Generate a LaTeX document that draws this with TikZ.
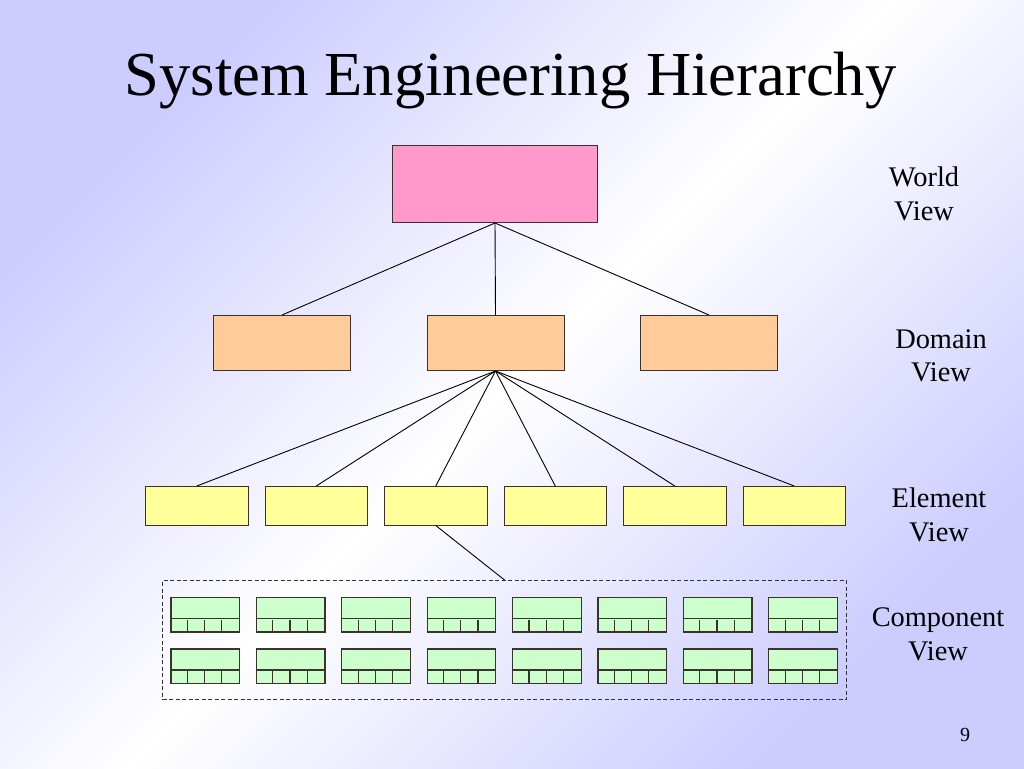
\documentclass[tikz,border=0pt]{standalone}
\usepackage{fontspec}
\setmainfont{Liberation Serif}
\usetikzlibrary{calc}
\definecolor{lav}{RGB}{204,204,255}
\definecolor{pinkf}{RGB}{255,153,204}
\definecolor{peachf}{RGB}{255,204,153}
\definecolor{yellowf}{RGB}{255,255,153}
\definecolor{greenf}{RGB}{204,255,204}
\definecolor{edgec}{RGB}{60,50,45}
\begin{document}
\begin{tikzpicture}[x=1pt,y=-1pt,
  box/.style={draw=edgec, line width=1pt, inner sep=0pt, anchor=north west},
  worldbox/.style={box, fill=pinkf, minimum width=205pt, minimum height=77pt},
  domainbox/.style={box, fill=peachf, minimum width=137pt, minimum height=55pt},
  elembox/.style={box, fill=yellowf, minimum width=102.5pt, minimum height=38.5pt},
  compbox/.style={box, fill=greenf, line width=1.2pt, minimum width=68.7pt, minimum height=34.3pt},
  conn/.style={draw=black, line width=0.9pt},
  lbl/.style={anchor=base, inner sep=0pt, font=\fontsize{28.4}{34}\selectfont},
]
\useasboundingbox (0,0) rectangle (1024,768);
\shade[shading=axis, top color=lav, bottom color=lav, middle color=white, shading angle=45] (0,0) rectangle (1024,768);

% title
\node[anchor=base, inner sep=0pt, font=\fontsize{62.6}{70}\selectfont] (title) at (510.5,95) {System Engineering Hierarchy};

% world
\node[worldbox] (w) at (392,145) {};
% domain
\node[domainbox] (d1) at (213,315) {};
\node[domainbox] (d2) at (426.5,315) {};
\node[domainbox] (d3) at (640,315) {};
\foreach \i in {1,2,3} \draw[conn] (w.south) -- (d\i.north);

% elements
\foreach \i in {1,...,6} {
  \node[elembox] (e\i) at ({145+119.5*(\i-1)},486) {};
  \draw[conn] (d2.south) -- (e\i.north);
}

% component group
\node[draw=black!80, dash pattern=on 4pt off 2.5pt, line width=1pt, inner sep=0pt, anchor=north west,
      minimum width=684pt, minimum height=119pt] (comp) at (162,580) {};
\draw[conn] (e3.south) -- (comp.north);

\foreach \r/\t in {1/597,2/648.3} {
  \foreach \k in {1,...,8} {
    \node[compbox] (c\r\k) at ({170.3+85.4*(\k-1)},\t) {};
    \draw[draw=edgec, line width=1.2pt]
      ($(c\r\k.north west)+(0,21.7)$) -- ($(c\r\k.north east)+(0,21.7)$)
      \foreach \j in {1,2,3} { ($(c\r\k.south west)+(17.175*\j,0)$) -- ($(c\r\k.south west)+(17.175*\j,-12.6)$) };
  }
}

% labels
\node[lbl] (l1a) at (924,186) {World};
\node[lbl] (l1b) at (924,220) {View};
\node[lbl] (l2a) at (941,348.3) {Domain};
\node[lbl] (l2b) at (941,381.7) {View};
\node[lbl] (l3a) at (939,507.3) {Element};
\node[lbl] (l3b) at (939,541.7) {View};
\node[lbl] (l4a) at (938,626.7) {Component};
\node[lbl] (l4b) at (938,660) {View};
\node[anchor=base, inner sep=0pt, font=\fontsize{20}{24}\selectfont] (pg) at (965,741.5) {9};
\end{tikzpicture}
\end{document}
